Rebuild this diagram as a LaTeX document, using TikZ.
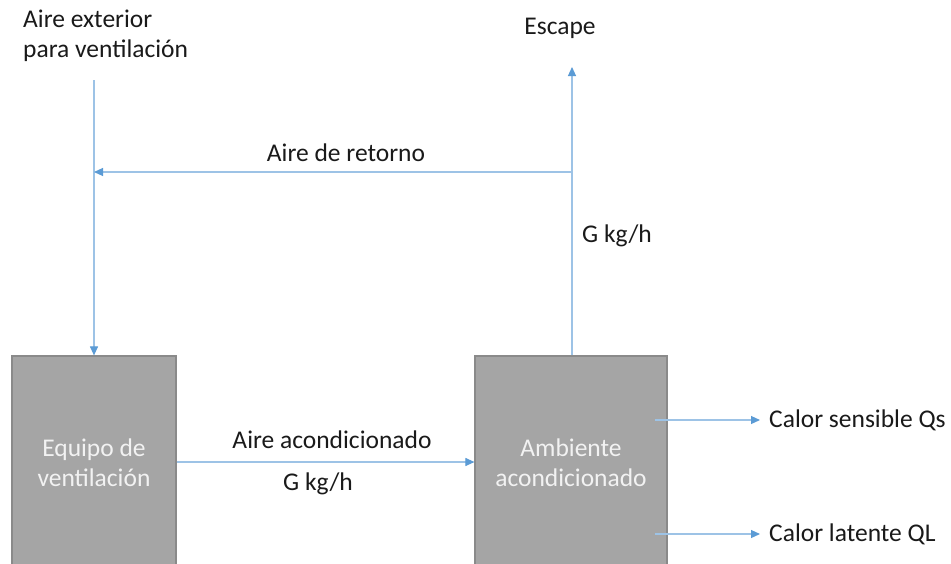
\documentclass[tikz,border=0pt]{standalone}
\usepackage{fontspec}
\setmainfont{Carlito}
\usetikzlibrary{arrows.meta}
\definecolor{lineblue}{HTML}{9DC3E6}
\definecolor{tipblue}{HTML}{5B9BD5}
\definecolor{boxfill}{HTML}{A5A5A5}
\definecolor{boxedge}{HTML}{8A8A8A}
\definecolor{boxtext}{HTML}{F2F2F2}
\definecolor{labeltext}{HTML}{1A1A1A}
\tikzset{
  flow/.style={draw=lineblue, line width=1.1pt, -{Triangle[length=9pt,width=8pt,color=tipblue]}},
  unit/.style={draw=boxedge, line width=1.2pt, fill=boxfill, text=boxtext, align=center, font=\fontsize{25.5}{30}\selectfont, inner sep=0pt},
  lbl/.style={text=labeltext, font=\fontsize{25.5}{30}\selectfont, inner sep=0pt},
}
\begin{document}
\begin{tikzpicture}[x=1pt,y=-1pt]
\useasboundingbox (0,0) rectangle (951,563);
\fill[white] (0,0) rectangle (951,563);
\clip (0,0) rectangle (951,563);
\node[unit, minimum width=164pt, minimum height=214pt] (equipo) at (94,463) {Equipo de\\ventilación};
\node[unit, minimum width=192pt, minimum height=214pt] (ambiente) at (571,463) {Ambiente\\acondicionado};
\node[lbl, align=left, anchor=west] (exterior) at (23,36) {Aire exterior\\para ventilación};
\node[lbl] (escape) at (560,28) {Escape};
\node[lbl] (retorno) at (346,153) {Aire de retorno};
\node[lbl, anchor=west] (gup) at (582,236) {G kg/h};
\node[lbl] (acond) at (332,440) {Aire acondicionado};
\node[lbl] (gdown) at (318,484) {G kg/h};
\node[lbl, anchor=west] (sensible) at (769,420) {Calor sensible Qs};
\node[lbl, anchor=west] (latente) at (769,534) {Calor latente QL};
\coordinate (venttop) at (94,80);
\coordinate (esctip) at (572,67);
\coordinate (retA) at (572,172);
\coordinate (retB) at (94,172);
\coordinate (qsA) at (655,420);
\coordinate (qsB) at (760,420);
\coordinate (qlA) at (655,534);
\coordinate (qlB) at (760,534);
\draw[flow] (venttop) -- (venttop |- equipo.north);
\draw[flow] (ambiente.north -| esctip) -- (esctip);
\draw[flow] (retA) -- (retB);
\draw[flow] (equipo.east |- 0,462) -- (ambiente.west |- 0,462);
\draw[flow] (qsA) -- (qsB);
\draw[flow] (qlA) -- (qlB);
\end{tikzpicture}
\end{document}
